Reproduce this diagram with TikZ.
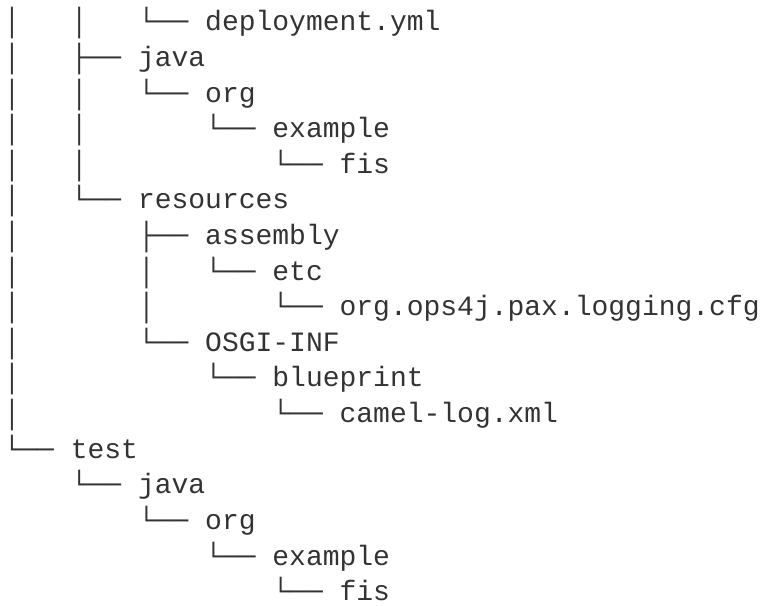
\documentclass[tikz,border=0pt]{standalone}
\usepackage{fontspec}
\setmonofont{Liberation Mono}
\definecolor{txt}{HTML}{333333}
\begin{document}
\begin{tikzpicture}[x=1pt,y=1pt,
  treeline/.style={anchor=base west,inner sep=0pt,outer sep=0pt,text=txt,
    font=\fontsize{28}{34}\selectfont\ttfamily}]
\useasboundingbox (0,0) rectangle (765,605);
\def\lh{35.6}
\node[treeline] (l1)  at (3.6,{605-31-0*\lh})  {│~~~│~~~└──~deployment.yml};
\node[treeline] (l2)  at (3.6,{605-31-1*\lh})  {│~~~├──~java};
\node[treeline] (l3)  at (3.6,{605-31-2*\lh})  {│~~~│~~~└──~org};
\node[treeline] (l4)  at (3.6,{605-31-3*\lh})  {│~~~│~~~~~~~└──~example};
\node[treeline] (l5)  at (3.6,{605-31-4*\lh})  {│~~~│~~~~~~~~~~~└──~fis};
\node[treeline] (l6)  at (3.6,{605-31-5*\lh})  {│~~~└──~resources};
\node[treeline] (l7)  at (3.6,{605-31-6*\lh})  {│~~~~~~~├──~assembly};
\node[treeline] (l8)  at (3.6,{605-31-7*\lh})  {│~~~~~~~│~~~└──~etc};
\node[treeline] (l9)  at (3.6,{605-31-8*\lh})  {│~~~~~~~│~~~~~~~└──~org.ops4j.pax.logging.cfg};
\node[treeline] (l10) at (3.6,{605-31-9*\lh})  {│~~~~~~~└──~OSGI-INF};
\node[treeline] (l11) at (3.6,{605-31-10*\lh}) {│~~~~~~~~~~~└──~blueprint};
\node[treeline] (l12) at (3.6,{605-31-11*\lh}) {│~~~~~~~~~~~~~~~└──~camel-log.xml};
\node[treeline] (l13) at (3.6,{605-31-12*\lh}) {└──~test};
\node[treeline] (l14) at (3.6,{605-31-13*\lh}) {~~~~└──~java};
\node[treeline] (l15) at (3.6,{605-31-14*\lh}) {~~~~~~~~└──~org};
\node[treeline] (l16) at (3.6,{605-31-15*\lh}) {~~~~~~~~~~~~└──~example};
\node[treeline] (l17) at (3.6,{605-31-16*\lh}) {~~~~~~~~~~~~~~~~└──~fis};
\end{tikzpicture}
\end{document}
